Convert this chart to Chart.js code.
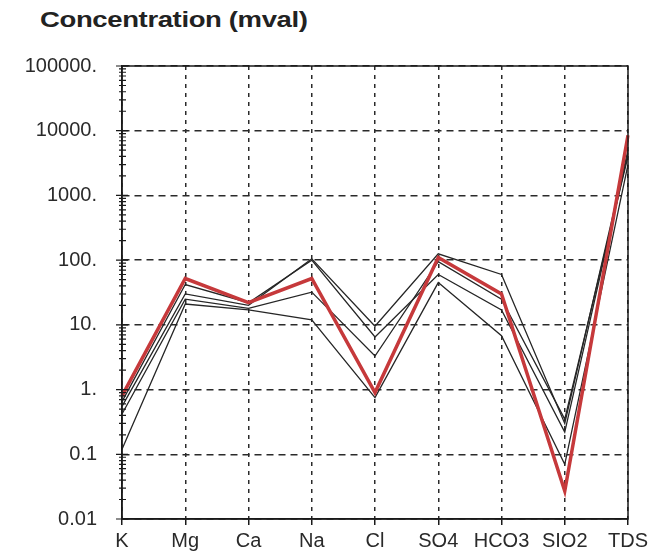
<!DOCTYPE html>
<html>
<head>
<meta charset="utf-8">
<script src="https://cdn.jsdelivr.net/npm/chart.js@4.4.1/dist/chart.umd.min.js"></script>
<style>
  html, body { margin: 0; padding: 0; background: #fff; }
  #wrap { position: relative; width: 652px; height: 557px; }
  #title {
    position: absolute; left: 40px; top: 7px;
    font: bold 22px "Liberation Sans", Arial, sans-serif;
    color: #222; letter-spacing: -0.3px;
    transform: scaleX(1.25); transform-origin: left top;
  }
  canvas { position: absolute; left: 0; top: 0; }
</style>
</head>
<body>
<div id="wrap">
  <div id="title">Concentration (mval)</div>
  <canvas id="chart" width="652" height="557"></canvas>
</div>
<script>
'use strict';

//Data
var ions = ['K', 'Mg', 'Ca', 'Na', 'Cl', 'SO4', 'HCO3', 'SIO2', 'TDS'];
var yTicks = [0.01, 0.1, 1, 10, 100, 1000, 10000, 100000];
var yTickLabels = ['0.01', '0.1', '1.', '10.', '100.', '1000.', '10000.', '100000.'];

var sampleRed = [0.8, 52, 22, 52, 0.9, 110, 30, 0.027, 8500];
var sampleA   = [0.55, 30, 20, 105, 9.5, 125, 60, 0.3, 5000];
var sampleB   = [0.12, 21, 17, 12, 0.75, 45, 6.8, 0.07, 3000];
var sampleC   = [0.65, 42, 22, 100, 6.5, 60, 17, 0.22, 4500];
var sampleD   = [0.42, 25, 18, 32, 3.3, 95, 25, 0.35, 4000];

var fontFamily = '"Liberation Sans", Arial, sans-serif';

//Frame + minor ticks
var framePlugin = {
    id: 'frame',
    afterDraw: function(chart){
        var ctx = chart.ctx;
        var a = chart.chartArea;
        var y = chart.scales.y;
        ctx.save();
        ctx.strokeStyle = '#1a1a1a';
        ctx.lineWidth = 1.5;
        ctx.strokeRect(a.left, a.top, a.right - a.left, a.bottom - a.top);

        ctx.lineWidth = 1.2;
        ctx.beginPath();
        for(var i = 0; i < yTicks.length; i++){
            var py = y.getPixelForValue(yTicks[i]);
            ctx.moveTo(a.left - 6, py);
            ctx.lineTo(a.left + 6, py);
            if(i < yTicks.length - 1){
                for(var m = 2; m <= 9; m++){
                    var my = y.getPixelForValue(yTicks[i] * m);
                    ctx.moveTo(a.left - 3, my);
                    ctx.lineTo(a.left + 4, my);
                }
            }
        }
        ctx.stroke();
        ctx.restore();
    }
};

function blackLine(data){
    return {
        data: data,
        borderColor: '#262626',
        borderWidth: 1.3,
        pointRadius: 0,
        tension: 0,
        order: 1
    };
}

var ctx = document.getElementById('chart').getContext('2d');
var chart = new Chart(ctx, {
    type: 'line',
    data: {
        labels: ions,
        datasets: [
            {
                data: sampleRed,
                borderColor: '#c6393b',
                borderWidth: 3.5,
                pointRadius: 0,
                tension: 0,
                order: 0
            },
            blackLine(sampleA),
            blackLine(sampleB),
            blackLine(sampleC),
            blackLine(sampleD)
        ]
    },
    options: {
        responsive: false,
        animation: false,
        layout: { padding: { top: 66, right: 24, bottom: 0, left: 0 } },
        plugins: {
            legend: { display: false },
            tooltip: { enabled: false }
        },
        scales: {
            x: {
                type: 'category',
                offset: false,
                grid: {
                    offset: false,
                    color: '#2a2a2a',
                    lineWidth: 1.5,
                    tickBorderDash: [],
                    tickLength: 6,
                    tickColor: '#1a1a1a'
                },
                border: { color: '#1a1a1a', width: 1.5, dash: [4, 5] },
                ticks: {
                    color: '#2a2a2a',
                    padding: 4,
                    maxRotation: 0,
                    autoSkip: false,
                    font: { family: fontFamily, size: 20 }
                },
                afterFit: function(scale){ scale.height = 38; }
            },
            y: {
                type: 'logarithmic',
                min: 0.01,
                max: 100000,
                grid: {
                    color: '#2a2a2a',
                    lineWidth: 1.5,
                    drawTicks: false
                },
                border: { color: '#1a1a1a', width: 1.5, dash: [7, 5] },
                ticks: {
                    color: '#2a2a2a',
                    padding: 25,
                    autoSkip: false,
                    font: { family: fontFamily, size: 20 },
                    callback: function(value){
                        var i = yTicks.indexOf(value);
                        return i >= 0 ? yTickLabels[i] : '';
                    }
                },
                afterBuildTicks: function(scale){
                    scale.ticks = yTicks.map(function(v){ return { value: v }; });
                },
                afterFit: function(scale){ scale.width = 122; }
            }
        }
    },
    plugins: [framePlugin]
});
</script>
</body>
</html>
